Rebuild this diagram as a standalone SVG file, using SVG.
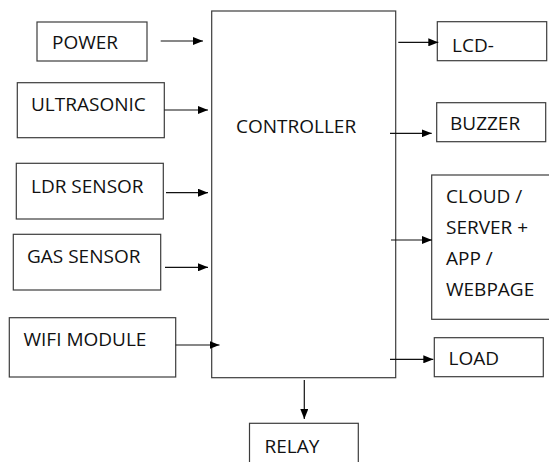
<svg xmlns="http://www.w3.org/2000/svg" width="549" height="462" viewBox="0 0 549 462">
<style>
.box{fill:#fff;stroke:#3c3c3c;stroke-width:1.2}
.t{font-family:"Open Sans","Noto Sans",sans-serif;font-size:19px;fill:#111}
.c{stroke:#111;stroke-width:1.2;fill:none}
</style>
<defs>
<marker id="ah" markerWidth="10" markerHeight="8" refX="10" refY="4" orient="auto" markerUnits="userSpaceOnUse">
<path d="M0,0 L10,4 L0,8 z" fill="#000"/>
</marker>
</defs>
<rect width="549" height="462" fill="#fff"/>
<g id="controller"><rect class="box" x="211.7" y="11" width="184" height="366.7"/><text class="t" x="236" y="133">CONTROLLER</text></g>
<g id="power"><rect class="box" x="37" y="22" width="110" height="39"/><text class="t" x="52" y="49">POWER</text></g>
<g id="ultrasonic"><rect class="box" x="17.3" y="82.7" width="147" height="55"/><text class="t" x="31" y="111">ULTRASONIC</text></g>
<g id="ldr"><rect class="box" x="16.3" y="163.3" width="147" height="55.7"/><text class="t" x="31" y="192.5">LDR SENSOR</text></g>
<g id="gas"><rect class="box" x="13.3" y="234.3" width="147.4" height="55.7"/><text class="t" x="27" y="263">GAS SENSOR</text></g>
<g id="wifi"><rect class="box" x="9.3" y="317.7" width="166.4" height="59.3"/><text class="t" x="23.5" y="346">WIFI MODULE</text></g>
<g id="lcd"><rect class="box" x="437.3" y="21.7" width="109.4" height="39"/><text class="t" x="452" y="52">LCD-</text></g>
<g id="buzzer"><rect class="box" x="436.7" y="102.7" width="109" height="39"/><text class="t" x="450" y="130">BUZZER</text></g>
<g id="cloud"><rect class="box" x="431.7" y="175" width="125" height="144.3"/>
<text class="t" x="446" y="203">CLOUD /</text><text class="t" x="446" y="234">SERVER +</text><text class="t" x="446" y="265">APP /</text><text class="t" x="446" y="296">WEBPAGE</text></g>
<g id="load"><rect class="box" x="434.3" y="337.7" width="109" height="39"/><text class="t" x="448.5" y="365">LOAD</text></g>
<g id="relay"><rect class="box" x="249.5" y="423.3" width="108.8" height="50"/><text class="t" x="264.5" y="452.5">RELAY</text></g>
<g id="connectors">
<line class="c" x1="160.7" y1="41" x2="203" y2="41" marker-end="url(#ah)"/>
<line class="c" x1="164.3" y1="110" x2="208" y2="110" marker-end="url(#ah)"/>
<line class="c" x1="166" y1="192.7" x2="208" y2="192.7" marker-end="url(#ah)"/>
<line class="c" x1="165" y1="267.3" x2="208" y2="267.3" marker-end="url(#ah)"/>
<line class="c" x1="175.7" y1="345" x2="219.5" y2="345" marker-end="url(#ah)"/>
<line class="c" x1="398.3" y1="42.3" x2="438.3" y2="42.3" marker-end="url(#ah)"/>
<line class="c" x1="390" y1="133.3" x2="431.7" y2="133.3" marker-end="url(#ah)"/>
<line class="c" x1="391" y1="240" x2="432" y2="240" marker-end="url(#ah)"/>
<line class="c" x1="390" y1="359.3" x2="433.3" y2="359.3" marker-end="url(#ah)"/>
<line class="c" x1="304.3" y1="380" x2="304.3" y2="419" marker-end="url(#ah)"/>
</g>
</svg>
